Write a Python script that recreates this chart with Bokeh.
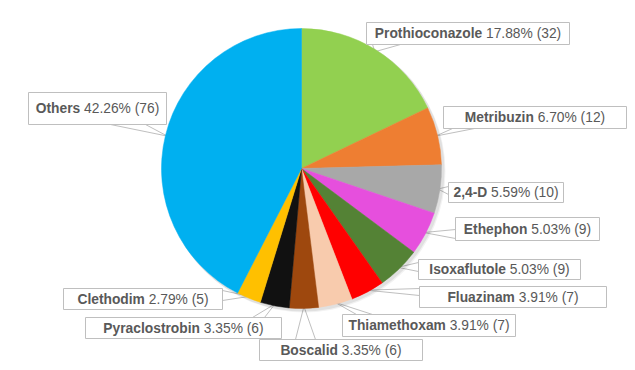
import math
from bokeh.plotting import figure
from bokeh.models import Range1d, ColumnDataSource
from bokeh.core.properties import value
from bokeh.embed import file_html
from bokeh.resources import INLINE

# ---------------- data ----------------
names = ["Prothioconazole", "Metribuzin", "2,4-D", "Ethephon", "Isoxaflutole",
         "Fluazinam", "Thiamethoxam", "Boscalid", "Pyraclostrobin", "Clethodim", "Others"]
counts = [32, 12, 10, 9, 9, 7, 7, 6, 6, 5, 76]
pct_labels = ["17.88%", "6.70%", "5.59%", "5.03%", "5.03%", "3.91%", "3.91%",
              "3.35%", "3.35%", "2.79%", "42.26%"]
colors = ["#92D050", "#EE7E32", "#A8A8A8", "#E64FDD", "#548235", "#FF0000",
          "#F8CBAD", "#9E480E", "#111111", "#FFC000", "#00B0F0"]

# ---------------- layout (image pixel coords) ----------------
CX, CY, R = 301, 168, 140
box_left = [366, 443, 448, 455, 418, 419, 342, 259, 85, 63, 28]
box_right = [569, 626, 563, 599, 580, 606, 515, 422, 281, 222, 166]
box_top = [22, 106, 182, 217, 259, 286, 314, 339, 317, 288, 92]
box_bot = [44, 128, 202, 240, 279, 307, 336, 360, 338, 309, 124]
ptr_base = [[(372, 44), (400, 44)], [(452, 128), (474, 128)], [(448, 186), (448, 194)],
            [(455, 229), (455, 238)], [(418, 262), (418, 271)], [(419, 288), (419, 295)],
            [(356, 314), (372, 314)], [(295, 339), (315, 339)], [(252, 317), (264, 317)],
            [(222, 290), (222, 300)], [(110, 124), (145, 124)]]

FS = 13.8
TXT = "#595959"
BORDER = "#BFBFBF"

# Arial / Liberation Sans advance widths (1/1000 em)
REG = {" ": 278, "%": 889, "(": 333, ")": 333, ".": 278, ",": 278, "-": 333}
for d in "0123456789":
    REG[d] = 556
BOLD = {"A": 722, "B": 722, "C": 722, "D": 722, "E": 667, "F": 611, "I": 278, "M": 833,
        "O": 778, "P": 667, "T": 611, "a": 556, "b": 611, "c": 556, "d": 611, "e": 556,
        "f": 333, "h": 611, "i": 278, "l": 278, "m": 889, "n": 611, "o": 611, "p": 611,
        "r": 389, "s": 556, "t": 333, "u": 611, "x": 556, "y": 556, "z": 500,
        ",": 278, "-": 333, " ": 278}
for d in "0123456789":
    BOLD[d] = 556


def tw(s, table):
    return sum(table.get(c, 556) for c in s) * FS / 1000.0


def Y(y):
    return 370 - y


total = float(sum(counts))
starts, ends, mids = [], [], []
acc = 0.0
for c in counts:
    a0 = acc / total * 2 * math.pi
    acc += c
    a1 = acc / total * 2 * math.pi
    starts.append(math.pi / 2 - a1)
    ends.append(math.pi / 2 - a0)
    mids.append((a0 + a1) / 2)

p = figure(width=630, height=366, x_range=Range1d(0, 630), y_range=Range1d(4, 370),
           output_backend="svg", toolbar_location=None, min_border=0,
           x_axis_type=None, y_axis_type=None)
p.grid.visible = False
p.outline_line_color = None
p.background_fill_color = "white"
p.border_fill_color = "white"

# pointer callouts (drawn under the pie and boxes)
xs, ys = [], []
for i, m in enumerate(mids):
    tx = CX + (R - 2) * math.sin(m)
    ty = CY - (R - 2) * math.cos(m)
    (b1x, b1y), (b2x, b2y) = ptr_base[i]
    xs.append([b1x, tx, b2x])
    ys.append([Y(b1y), Y(ty), Y(b2y)])
p.patches(xs, ys, fill_color="white", line_color=BORDER, line_width=1)

# soft shadow
for k, a in [(3, 0.05), (2, 0.07)]:
    p.circle(x=[CX + k], y=[Y(CY + k)], radius=R + 1, fill_color="black",
             fill_alpha=a, line_color=None)

src = ColumnDataSource(dict(start=starts, end=ends, color=colors))
p.wedge(x=CX, y=Y(CY), radius=R, start_angle="start", end_angle="end",
        fill_color="color", line_color="color", line_width=0.5, source=src)

# label boxes
p.quad(left=box_left, right=box_right, top=[Y(t) for t in box_top],
       bottom=[Y(b) for b in box_bot], fill_color="white", line_color=BORDER, line_width=1)

# texts: bold name, then regular "pct (count)"
nx, ny, rx, rest = [], [], [], []
for i, n in enumerate(names):
    r = "%s (%d)" % (pct_labels[i], counts[i])
    wb = tw(n, BOLD)
    ws = tw(" ", REG)
    wr = tw(r, REG)
    cx = (box_left[i] + box_right[i]) / 2.0
    x0 = cx - (wb + ws + wr) / 2.0
    cy = Y((box_top[i] + box_bot[i]) / 2.0)
    nx.append(x0)
    ny.append(cy)
    rx.append(x0 + wb + ws)
    rest.append(r)

p.text(x=nx, y=ny, text=names, text_font=value("Liberation Sans"),
       text_font_size=value("%.1fpx" % FS), text_font_style="bold",
       text_color=TXT, text_align="left", text_baseline="middle")
p.text(x=rx, y=ny, text=rest, text_font=value("Liberation Sans"),
       text_font_size=value("%.1fpx" % FS), text_font_style="normal",
       text_color=TXT, text_align="left", text_baseline="middle")

open("out.html", "w").write(file_html(p, INLINE))
